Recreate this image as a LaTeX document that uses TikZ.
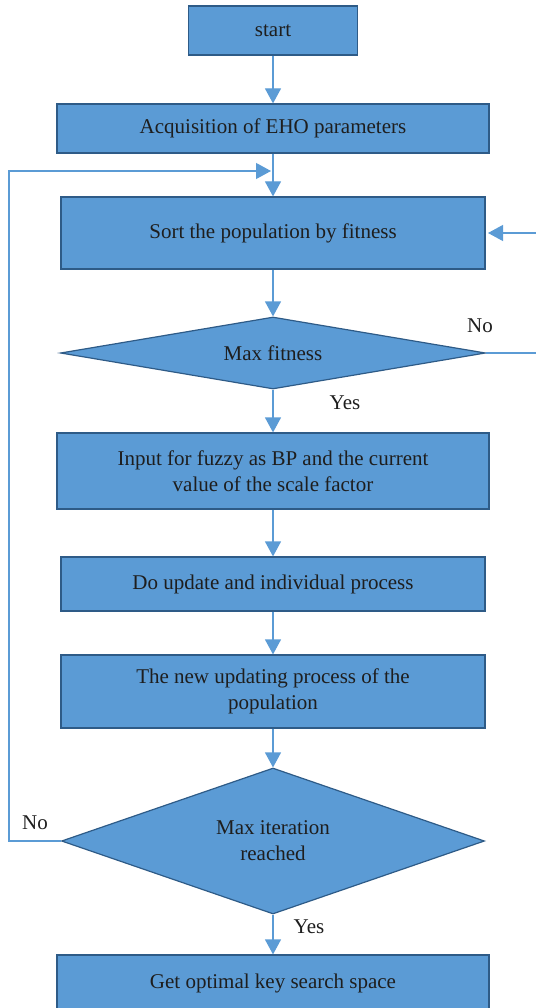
\documentclass[tikz,border=0pt]{standalone}
\usepackage{fontspec}
\setmainfont{Liberation Serif}
\usetikzlibrary{shapes.geometric,arrows.meta}
\definecolor{boxfill}{HTML}{5B9BD5}
\definecolor{boxline}{HTML}{2E5B87}
\definecolor{conn}{HTML}{5B9BD5}
\definecolor{txt}{HTML}{1E1E1E}
\tikzset{
  x=1pt,y=-1pt,
  every node/.style={font=\fontsize{21}{26}\selectfont, text=txt},
  procbox/.style={rectangle, draw=boxline, fill=boxfill, line width=1.2pt, inner sep=0pt, align=center},
  decbox/.style={diamond, draw=boxline, fill=boxfill, line width=1.2pt, inner sep=0pt, align=center},
  arr/.style={draw=conn, line width=1.2pt, -{Triangle[length=15pt,width=16pt]}},
  lbl/.style={inner sep=0pt}
}
\begin{document}
\begin{tikzpicture}
\useasboundingbox (0,0) rectangle (535,1008);
\node[procbox, minimum width=169pt, minimum height=49pt] (start) at (273,30.5) {start};
\node[procbox, minimum width=432pt, minimum height=49pt] (acq) at (273,128.5) {Acquisition of EHO parameters};
\node[procbox, minimum width=424pt, minimum height=72pt] (sort) at (273,233) {Sort the population by fitness};
\node[decbox, aspect=5.9, minimum width=425pt, minimum height=72pt] (dia1) at (273,353) {Max fitness};
\node[procbox, minimum width=432pt, minimum height=76pt] (input) at (273,471) {Input for fuzzy as BP and the current\\value of the scale factor};
\node[procbox, minimum width=424pt, minimum height=54pt] (update) at (273,584) {Do update and individual process};
\node[procbox, minimum width=424pt, minimum height=73pt] (newupd) at (273,691.5) {The new updating process of the\\population};
\node[decbox, aspect=2.9, minimum width=423pt, minimum height=146pt] (dia2) at (273,841) {Max iteration\\reached};
\node[procbox, minimum width=432pt, minimum height=57pt] (get) at (273,983.5) {Get optimal key search space};

\node[lbl] (no1) at (480,326) {No};
\node[lbl] (yes1) at (345,403) {Yes};
\node[lbl] (no2) at (35,823) {No};
\node[lbl] (yes2) at (309,927) {Yes};

\coordinate (loopT) at (9,171);
\coordinate (loopEnd) at (271,171);
\coordinate (rtop) at (540,233);
\coordinate (sortR) at (488,233);

\draw[arr] (start.south) -- (acq.north);
\draw[arr] (acq.south) -- (sort.north);
\draw[arr] (sort.south) -- (dia1.north);
\draw[arr] (dia1.south) -- (input.north);
\draw[arr] (input.south) -- (update.north);
\draw[arr] (update.south) -- (newupd.north);
\draw[arr] (newupd.south) -- (dia2.north);
\draw[arr] (dia2.south) -- (get.north);
\draw[arr] (dia2.west) -| (loopT) -- (loopEnd);
\draw[arr] (dia1.east) -| (rtop) -- (sortR);
\end{tikzpicture}
\end{document}
